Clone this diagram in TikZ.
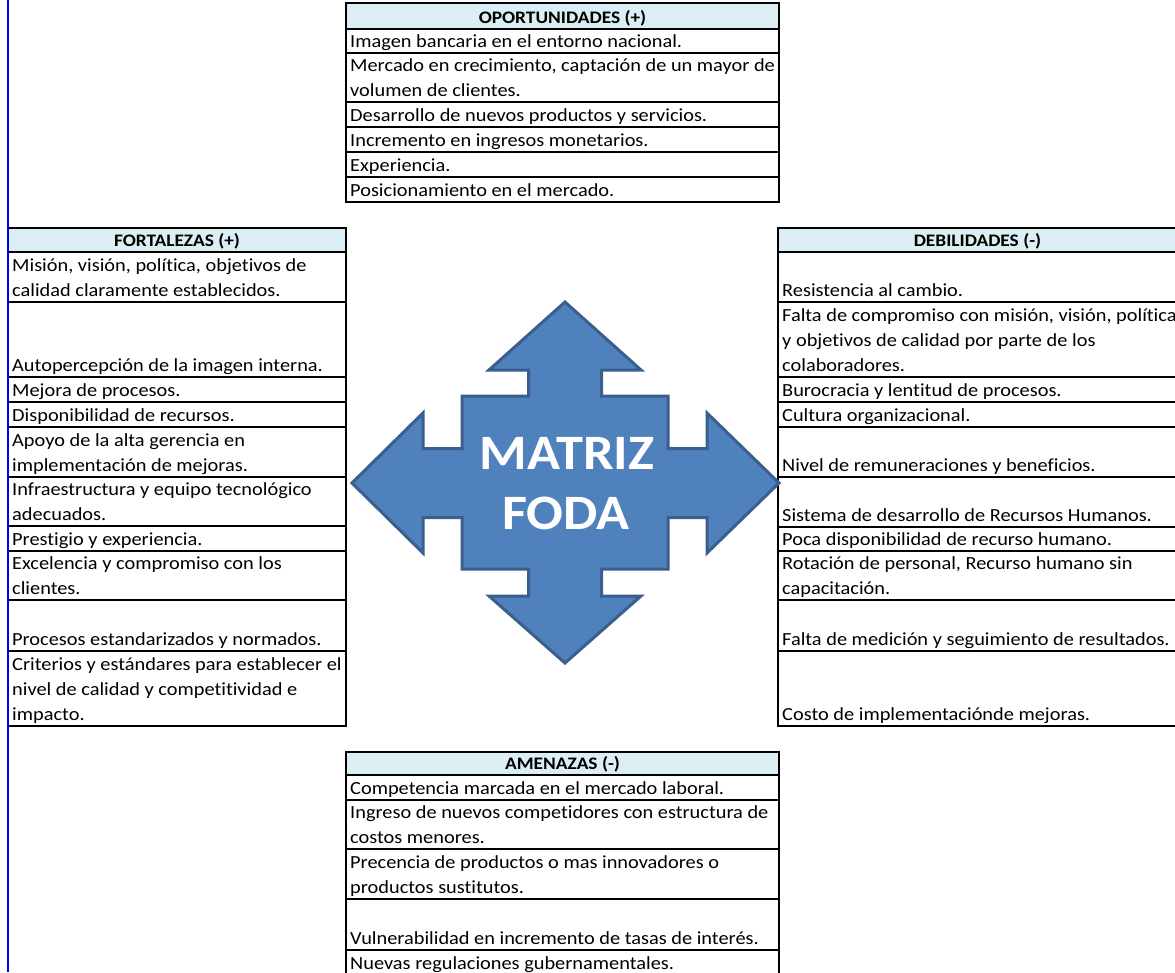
\documentclass[tikz,border=0pt]{standalone}
\usepackage{fontspec}
\setmainfont{Carlito}[FakeStretch=1.1, Ligatures={NoCommon}]
\definecolor{headfill}{HTML}{DAEEF3}
\definecolor{arrowfill}{HTML}{4F81BD}
\definecolor{arrowline}{HTML}{3A5F8E}
\definecolor{marginblue}{HTML}{0000E6}
\tikzset{
  gridline/.style={draw=black, line width=1.8pt},
  headcell/.style={gridline, fill=headfill},
  celltext/.style={anchor=base west, inner sep=0pt, font=\fontsize{18.5}{24.9}\selectfont},
  headtext/.style={anchor=base, inner sep=0pt, font=\fontsize{17.6}{20}\selectfont\bfseries},
  bigarrow/.style={fill=arrowfill, draw=arrowline, line width=3pt, line join=miter},
  titletext/.style={inner sep=0pt, text=white, font=\fontsize{49.5}{60}\selectfont\bfseries},
}
% body cell: name, left, right, top, bottom, text (lines split with \\)
\newcommand\tcell[6]{%
  \draw[gridline] (#2,#4) rectangle (#3,#5);
  \node[celltext] (#1) at (#2+4,#5-6)
    {\begin{minipage}[b]{600pt}\raggedright #6\end{minipage}};}
% header cell: name, left, right, top, bottom, text
\newcommand\hcell[6]{%
  \draw[headcell] (#2,#4) rectangle (#3,#5);
  \node[headtext] (#1) at ({(#2+#3)/2},#5-6) {#6};}
\begin{document}
\begin{tikzpicture}[x=1pt,y=-1pt]
\useasboundingbox (0,0) rectangle (1175,972);
\clip (0,0) rectangle (1175,972);
\fill[white] (0,0) rectangle (1175,972);

% Oportunidades
\hcell{oh}{346}{779}{3}{29}{OPORTUNIDADES (+)}
\tcell{o1}{346}{779}{29}{53}{Imagen bancaria en el entorno nacional.}
\tcell{o2}{346}{779}{53}{102}{Mercado en crecimiento, captación de un mayor de\\volumen de clientes.}
\tcell{o3}{346}{779}{102}{127}{Desarrollo de nuevos productos y servicios.}
\tcell{o4}{346}{779}{127}{152}{Incremento en ingresos monetarios.}
\tcell{o5}{346}{779}{152}{177}{Experiencia.}
\tcell{o6}{346}{779}{177}{202}{Posicionamiento en el mercado.}

% Fortalezas
\hcell{fh}{8}{346}{228}{252}{FORTALEZAS (+)}
\tcell{f1}{8}{346}{252}{302}{Misión, visión, política, objetivos de\\calidad claramente establecidos.}
\tcell{f2}{8}{346}{302}{377}{Autopercepción de la imagen interna.}
\tcell{f3}{8}{346}{377}{402}{Mejora de procesos.}
\tcell{f4}{8}{346}{402}{427}{Disponibilidad de recursos.}
\tcell{f5}{8}{346}{427}{477}{Apoyo de la alta gerencia en\\implementación de mejoras.}
\tcell{f6}{8}{346}{477}{526}{Infraestructura y equipo tecnológico\\adecuados.}
\tcell{f7}{8}{346}{526}{551}{Prestigio y experiencia.}
\tcell{f8}{8}{346}{551}{600}{Excelencia y compromiso con los\\clientes.}
\tcell{f9}{8}{346}{600}{651}{Procesos estandarizados y normados.}
\tcell{f10}{8}{346}{651}{726}{Criterios y estándares para establecer el\\nivel de calidad y competitividad e\\impacto.}

% Debilidades
\hcell{dh}{778}{1177}{228}{252}{DEBILIDADES (-)}
\tcell{d1}{778}{1177}{252}{302}{Resistencia al cambio.}
\tcell{d2}{778}{1177}{302}{377}{Falta de compromiso con misión, visión, política\\y objetivos de calidad por parte de los\\colaboradores.}
\tcell{d3}{778}{1177}{377}{402}{Burocracia y lentitud de procesos.}
\tcell{d4}{778}{1177}{402}{427}{Cultura organizacional.}
\tcell{d5}{778}{1177}{427}{477}{Nivel de remuneraciones y beneficios.}
\tcell{d6}{778}{1177}{477}{527}{Sistema de desarrollo de Recursos Humanos.}
\tcell{d7}{778}{1177}{527}{551}{Poca disponibilidad de recurso humano.}
\tcell{d8}{778}{1177}{551}{600}{Rotación de personal, Recurso humano sin\\capacitación.}
\tcell{d9}{778}{1177}{600}{651}{Falta de medición y seguimiento de resultados.}
\tcell{d10}{778}{1177}{651}{726}{Costo de implementaciónde mejoras.}

% Amenazas
\hcell{ah}{346}{779}{752}{775}{AMENAZAS (-)}
\tcell{a1}{346}{779}{775}{800}{Competencia marcada en el mercado laboral.}
\tcell{a2}{346}{779}{800}{849}{Ingreso de nuevos competidores con estructura de\\costos menores.}
\tcell{a3}{346}{779}{849}{899}{Precencia de productos o mas innovadores o\\productos sustitutos.}
\tcell{a4}{346}{779}{899}{950}{Vulnerabilidad en incremento de tasas de interés.}
\tcell{a5}{346}{779}{950}{975}{Nuevas regulaciones gubernamentales.}

% four-way arrow
\draw[bigarrow]
  (565,302) -- (641,370) -- (601.5,370) -- (601.5,396) -- (668,396)
  -- (668,448.5) -- (707,448.5) -- (707,413) -- (779,483) -- (707,553)
  -- (707,517.5) -- (668,517.5) -- (668,569) -- (601.5,569) -- (601.5,596)
  -- (641,596) -- (565,663) -- (489,596) -- (528.5,596) -- (528.5,569)
  -- (462,569) -- (462,517.5) -- (423,517.5) -- (423,553) -- (352,483)
  -- (423,413) -- (423,448.5) -- (462,448.5) -- (462,396) -- (528.5,396)
  -- (528.5,370) -- (489,370) -- cycle;
\node[titletext, anchor=base] (t1) at (567,469) {MATRIZ};
\node[titletext, anchor=base] (t2) at (566,529) {FODA};

% margin line
\coordinate (mtop) at (7.5,0);
\coordinate (mbot) at (7.5,972);
\draw[marginblue, line width=2pt] (mtop) -- (mbot);
\end{tikzpicture}
\end{document}
